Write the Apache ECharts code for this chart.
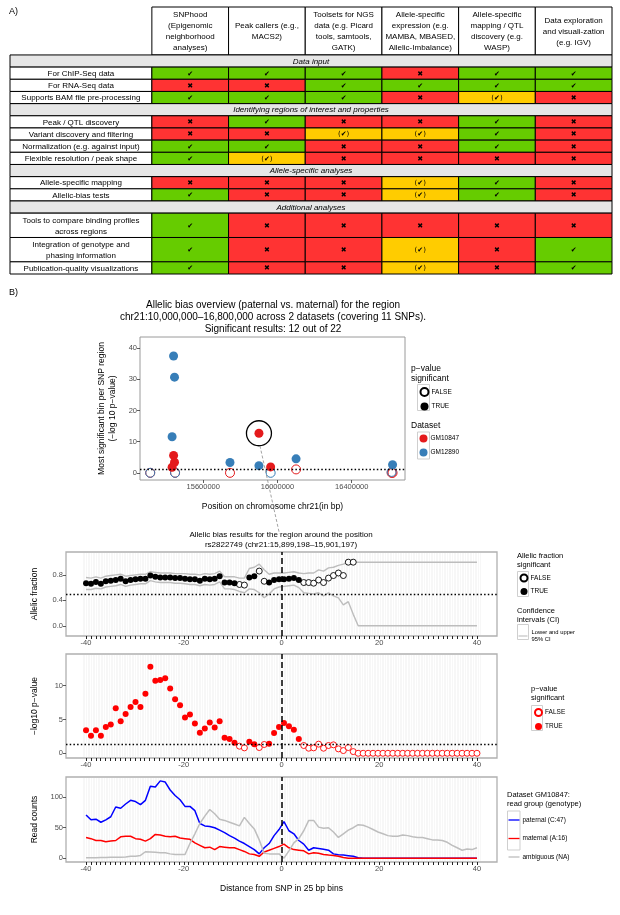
<!DOCTYPE html>
<html><head><meta charset="utf-8">
<script src="https://cdn.jsdelivr.net/npm/echarts/dist/echarts.min.js"></script>
<style>html,body{margin:0;padding:0;background:#fff}#c{width:620px;height:915px}</style>
</head><body><div id="c"></div>
<script>
const FONT = '"Liberation Sans", Arial, Helvetica, sans-serif';
const SYMFONT = '"DejaVu Sans", sans-serif';

// ---------- Panel A: comparison table ----------
const toolHeaders = [
  'SNPhood\n(Epigenomic\nneighborhood\nanalyses)',
  'Peak callers (e.g.,\nMACS2)',
  'Toolsets for NGS\ndata (e.g. Picard\ntools, samtools,\nGATK)',
  'Allele-specific\nexpression (e.g.\nMAMBA, MBASED,\nAllelic-Imbalance)',
  'Allele-specific\nmapping / QTL\ndiscovery (e.g.\nWASP)',
  'Data exploration\nand visuali-zation\n(e.g. IGV)'
];
const rowLabels = [
  'Data input',
  'For ChIP-Seq data',
  'For RNA-Seq data',
  'Supports BAM file pre-processing',
  'Identifying regions of interest and properties',
  'Peak / QTL discovery',
  'Variant discovery and filtering',
  'Normalization (e.g. against input)',
  'Flexible resolution / peak shape',
  'Allele-specific analyses',
  'Allele-specific mapping',
  'Allelic-bias tests',
  'Additional analyses',
  'Tools to compare binding profiles\nacross regions',
  'Integration of genotype and\nphasing information',
  'Publication-quality visualizations'
];
const rowIsSection = [1,0,0,0,1,0,0,0,0,1,0,0,1,0,0,0];
const rowSpan      = [1,1,1,1,1,1,1,1,1,1,1,1,1,2,2,1];
const support = ['', 'YYYNYY','NNYYYY','YYYNPN', '', 'NYNNYN','NNPPYN','YYNNYN','YPNNNN', '', 'NNNPYN','YNNPYN', '', 'YNNNNN','YNNPNY','YNNPNY'];
const supportSymbol = {Y:'\u2714', N:'\u2716', P:'(\u2714)'};
const supportColor  = {Y:'#66cc00', N:'#ff3333', P:'#ffcc00'};

// ---------- Panel B: overview (11 SNPs x 2 datasets) ----------
const snpPos      = [15314000,15432000,15440000,15445000,15448000,15744000,15900000,15963000,16100000,16615000,16620000];
const gm10847Val  = [0, 1.8, 5.6, 3.4, 0, 0, 12.7, 1.9, 1.1, 0, 0];
const gm10847Sig  = [0, 1, 1, 1, 0, 0, 1, 1, 0, 0, 0];
const gm12890Val  = [0, 11.6, 37.5, 30.7, 0, 3.3, 2.3, 0, 4.5, 0.3, 2.6];
const gm12890Sig  = [0, 1, 1, 1, 0, 1, 1, 0, 1, 0, 1];
const highlightSnp = [15900000, 12.7];
const ovXTicks = [15600000, 16000000, 16400000];
const ovYTicks = [0, 10, 20, 30, 40];

// ---------- Panel B: region around rs2822749 (80 bins) ----------
const allelicFraction = [0.67,0.66,0.69,0.66,0.70,0.71,0.72,0.74,0.70,0.72,
  0.73,0.74,0.74,0.79,0.77,0.76,0.76,0.76,0.75,0.75,
  0.74,0.73,0.73,0.71,0.74,0.73,0.74,0.78,0.68,0.68,
  0.67,0.65,0.64,0.76,0.78,0.86,0.70,0.68,0.72,0.73,
  0.73,0.74,0.75,0.72,0.68,0.68,0.67,0.72,0.68,0.75,
  0.79,0.83,0.79,1.0,1.0];
const afSignificant = [1,1,1,1,1,1,1,1,1,1, 1,1,1,1,1,1,1,1,1,1, 1,1,1,1,1,1,1,1,1,1,
  1,0,0,1,1,0,0,1,1,1, 1,1,1,1,0,0,0,0,0,0, 0,0,0,0,0];
const ciUpper = [0.76,0.75,0.77,0.75,0.78,0.79,0.80,0.81,0.78,0.79,
  0.80,0.81,0.81,0.85,0.84,0.83,0.83,0.83,0.82,0.82,
  0.82,0.81,0.81,0.80,0.82,0.81,0.82,0.86,0.77,0.77,
  0.77,0.75,0.75,0.90,0.92,0.97,0.88,0.81,0.83,0.83,
  0.83,0.84,0.85,0.83,0.82,0.83,0.83,0.88,0.86,0.91,
  0.92,0.95,0.97,1,1,1,1,1,1,1,
  1,1,1,1,1,1,1,1,1,1, 1,1,1,1,1,1,1,1,1,1];
const ciLower = [0.57,0.57,0.59,0.58,0.61,0.62,0.63,0.65,0.62,0.64,
  0.65,0.66,0.66,0.71,0.69,0.68,0.68,0.68,0.67,0.67,
  0.66,0.65,0.65,0.63,0.65,0.64,0.65,0.69,0.58,0.58,
  0.57,0.54,0.52,0.58,0.57,0.52,0.44,0.50,0.58,0.61,
  0.62,0.63,0.64,0.60,0.52,0.51,0.50,0.52,0.47,0.52,
  0.47,0.44,0.33,0.38,0.18,0,0,0,0,0,
  0,0,0,0,0,0,0,0,0,0, 0,0,0,0,0,0,0,0,0,0];
const pValueLog = [3.4,2.6,3.4,2.6,3.9,4.25,6.65,4.75,5.8,6.85,
  7.6,6.85,8.8,12.8,10.75,10.85,11.1,9.6,8.0,7.1,
  5.3,5.75,4.4,3.05,3.65,4.55,3.8,4.75,2.3,2.1,
  1.55,1.05,0.8,1.7,1.35,0.85,1.3,1.4,3.0,3.9,
  4.5,4.0,3.5,2.1,1.15,0.75,0.8,1.35,0.75,1.15,
  1.25,0.65,0.4,0.85,0.25,0,0,0,0,0,
  0,0,0,0,0,0,0,0,0,0, 0,0,0,0,0,0,0,0,0,0];
const pvSignificant = [1,1,1,1,1,1,1,1,1,1, 1,1,1,1,1,1,1,1,1,1, 1,1,1,1,1,1,1,1,1,1,
  1,0,0,1,1,0,0,1,1,1, 1,1,1,1,0,0,0,0,0,0, 0,0,0,0,0,0,0,0,0,0,
  0,0,0,0,0,0,0,0,0,0, 0,0,0,0,0,0,0,0,0,0];
const readsPaternal = [71,63,64,59,63,68,84,82,89,95,
  93,88,95,118,117,127,125,112,103,96,
  85,85,78,57,53,52,50,46,42,37,
  33,28,24,19,14,7,17,24,37,47,
  60,45,40,29,23,13,17,16,14.5,13,
  7,5.6,5,4,3,0.5,0,0,0,0,
  0,0,0,0,0,0,0,0,0,0, 0,0,0,0,0,0,0,0,0,0];
const readsMaternal = [34,32,29,29,27,28,29,35,36,36,
  32,31,28,32,39,38,36,35,36,33,
  32,31,25,21,17,18,14,19,18,17,
  17,14,11,7,6,3,10,13,16,19,
  23,17,14,13,12,7,9,8,6,5,
  4.5,3,1,0,0,0,0,0,0,0,
  0,0,0,0,0,0,0,0,0,0, 0,0,0,0,0,0,0,0,0,0];
const readsAmbiguous = [0.5,0.5,0.5,1,1,1.5,1.5,1.5,2,3,
  3,4.5,10.5,10,9.5,9,9,7,6,6,
  6,24,40,57,69,80,73,64,62,59,
  56,53,67,57,48,30,8,7,7,7,
  0,12,25,32,45,62,62,51,49,50,
  43,34,40,46,50,55,54,51,47,43,
  40,37,36,36,38,37,35,34,34,32,
  30,30,29,26,21,17,13,15,14,17];
const binLabelTicks = [-40, -20, 0, 20, 40];
const afYTicks = [0, 0.4, 0.8];
const pvYTicks = [0, 5, 10];
const rcYTicks = [0, 50, 100];

// bins from -40 to 40 (80 bins of 25 bp)
const nBins = readsPaternal.length;
const binPos = readsPaternal.map((_, i) => -40 + i * 80 / (nBins - 1));
const binTicks = []; for (let v = -40; v <= 40; v++) binTicks.push(v);

// ---------- Build table cells ----------
const LABEL_W = 1.85, HEADER_H = 3.94;
const cells = [];
toolHeaders.forEach((t, j) => cells.push({x0: LABEL_W + j, x1: LABEL_W + j + 1, y0: 0, y1: HEADER_H, kind: 'hdr', text: t}));
let yCursor = HEADER_H;
rowLabels.forEach((lab, r) => {
  const h = rowSpan[r];
  if (rowIsSection[r]) {
    cells.push({x0: 0, x1: LABEL_W + 6, y0: yCursor, y1: yCursor + h, kind: 'sec', text: lab});
  } else {
    cells.push({x0: 0, x1: LABEL_W, y0: yCursor, y1: yCursor + h, kind: 'lbl', text: lab});
    for (let j = 0; j < 6; j++) {
      const code = support[r][j];
      cells.push({x0: LABEL_W + j, x1: LABEL_W + j + 1, y0: yCursor, y1: yCursor + h, kind: code, text: supportSymbol[code]});
    }
  }
  yCursor += h;
});
const TOTAL_H = yCursor;

function renderCell(params, api) {
  const c = cells[params.dataIndex];
  const a = api.coord([api.value(0), api.value(2)]);
  const b = api.coord([api.value(1), api.value(3)]);
  const x = a[0], y = a[1], w = b[0] - a[0], h = b[1] - a[1];
  let fill = '#ffffff', fontSize = 8, fontStyle = 'normal', family = FONT, lh = 10.6;
  if (c.kind === 'sec') { fill = '#e6e6e6'; fontStyle = 'italic'; }
  if (c.kind === 'Y' || c.kind === 'N' || c.kind === 'P') { fill = supportColor[c.kind]; fontSize = 7; family = SYMFONT; }
  if (c.kind === 'hdr') { lh = 11; }
  if (c.kind === 'lbl') { lh = 11; }
  return {type: 'group', children: [
    {type: 'rect', shape: {x: x, y: y, width: w, height: h}, style: {fill: fill, stroke: '#000', lineWidth: 1}},
    {type: 'text', style: {text: c.text, x: x + w / 2, y: y + h / 2 + 0.5, align: 'center', verticalAlign: 'middle',
      textAlign: 'center', textVerticalAlign: 'middle',
      fontSize: fontSize, fontStyle: fontStyle, fontFamily: family, fill: '#000', lineHeight: lh}}
  ]};
}

// ---------- helpers ----------
const RED = '#E41A1C', BLUE = '#377EB8';
const tickLabel = {fontSize: 7.5, color: '#4d4d4d', fontFamily: FONT, margin: 3};
const nameStyle = {fontSize: 8.5, color: '#000', fontFamily: FONT};
function pts(xs, ys, keep) { const out = []; ys.forEach((v, i) => { if (keep(i)) out.push([xs[i], v]); }); return out; }
const dashedZero = {xAxis: 0, lineStyle: {type: [6, 3], color: '#000', width: 1.5}};
function dotted(v) { return {yAxis: v, lineStyle: {type: [1.5, 2.2], color: '#000', width: 1.4}}; }
function mline(list) { return {silent: true, symbol: ['none', 'none'], label: {show: false}, animation: false, data: list}; }
const noLine = {show: false, onZero: false};

const lowerGrids = [
  {left: 66, top: 552, width: 431, height: 84},
  {left: 66, top: 654, width: 431, height: 104},
  {left: 66, top: 777, width: 431, height: 85}
];
const XMIN = -44.1, XMAX = 44.1;
const pxPerUnit = 431 / (XMAX - XMIN);
const texLeft = 66 + (-40.6 - XMIN) * pxPerUnit, texWidth = 81.2 * pxPerUnit;

const grids = [
  {left: 10, top: 7, width: 602, height: 267},
  {left: 140, top: 337, width: 265, height: 143, show: true, borderColor: '#9a9a9a', borderWidth: 1},
].concat(lowerGrids.map(g => Object.assign({show: true, borderColor: '#b0b0b0', borderWidth: 1.3}, g)))
 .concat(lowerGrids.map(g => ({left: texLeft, top: g.top + 1, width: texWidth, height: g.height - 2})));

function lowerX(gi, showName) {
  return {gridIndex: gi, type: 'value', min: XMIN, max: XMAX,
    axisLine: noLine, splitLine: {show: false},
    axisTick: {show: true, customValues: binTicks, length: 3, lineStyle: {color: '#222', width: 1}},
    axisLabel: Object.assign({customValues: binLabelTicks}, tickLabel),
    name: showName ? 'Distance from SNP in 25 bp bins' : '', nameLocation: 'middle', nameGap: 22, nameTextStyle: nameStyle};
}
function lowerY(gi, min, max, ticks, name, fmt) {
  return {gridIndex: gi, type: 'value', min: min, max: max,
    axisLine: noLine, splitLine: {show: false},
    axisTick: {show: true, customValues: ticks, length: 3, lineStyle: {color: '#333', width: 0.8}},
    axisLabel: Object.assign({customValues: ticks, formatter: fmt || (v => String(v))}, tickLabel),
    name: name, nameLocation: 'middle', nameGap: 27, nameTextStyle: nameStyle};
}
function texX(gi) {
  return {gridIndex: gi, type: 'value', min: 0, max: 243, interval: 1,
    axisLine: noLine, axisTick: {show: false}, axisLabel: {show: false},
    splitLine: {show: true, lineStyle: {color: '#f2f2f2', width: 0.6}}};
}
function texY(gi) { return {gridIndex: gi, type: 'value', min: 0, max: 1, show: false, axisLine: noLine, splitLine: {show: false}}; }

const xAxes = [
  {gridIndex: 0, type: 'value', min: 0, max: LABEL_W + 6, show: false, axisLine: noLine},
  {gridIndex: 1, type: 'value', min: 15259000, max: 16687000,
    axisLine: noLine, splitLine: {show: false},
    axisTick: {show: true, customValues: ovXTicks, length: 3, lineStyle: {color: '#333', width: 0.8}},
    axisLabel: Object.assign({customValues: ovXTicks, formatter: v => String(v)}, tickLabel),
    name: 'Position on chromosome chr21(in bp)', nameLocation: 'middle', nameGap: 22, nameTextStyle: nameStyle},
  lowerX(2, false), lowerX(3, false), lowerX(4, true),
  texX(5), texX(6), texX(7)
];
const yAxes = [
  {gridIndex: 0, type: 'value', min: 0, max: TOTAL_H, inverse: true, show: false, axisLine: noLine},
  {gridIndex: 1, type: 'value', min: -2.3, max: 43.6,
    axisLine: noLine, splitLine: {show: false},
    axisTick: {show: true, customValues: ovYTicks, length: 3, lineStyle: {color: '#333', width: 0.8}},
    axisLabel: Object.assign({customValues: ovYTicks}, tickLabel),
    name: 'Most significant bin per SNP region\n(\u2212log 10 p\u2212value)', nameLocation: 'middle', nameGap: 22,
    nameTextStyle: Object.assign({lineHeight: 11}, nameStyle)},
  lowerY(2, -0.16, 1.16, afYTicks, 'Allelic fraction', v => v.toFixed(1)),
  lowerY(3, -0.7, 14.7, pvYTicks, '\u2212log10 p\u2212value'),
  lowerY(4, -6.35, 133.35, rcYTicks, 'Read counts'),
  texY(5), texY(6), texY(7)
];

const openStyle = c => ({color: 'rgba(255,255,255,0)', borderColor: c, borderWidth: 1, opacity: 1});
const solid = c => ({color: c, opacity: 1});
const series = [
  {type: 'custom', name: 'table', xAxisIndex: 0, yAxisIndex: 0, silent: true, renderItem: renderCell,
    encode: {x: [0, 1], y: [2, 3]}, data: cells.map(c => [c.x0, c.x1, c.y0, c.y1])},
  // overview
  {name: 'GM10847 not significant', type: 'scatter', xAxisIndex: 1, yAxisIndex: 1, symbolSize: 9, z: 3,
    itemStyle: openStyle(RED), data: pts(snpPos, gm10847Val, i => !gm10847Sig[i]),
    markLine: mline([dotted(1.3)])},
  {name: 'GM12890 not significant', type: 'scatter', xAxisIndex: 1, yAxisIndex: 1, symbolSize: 9, z: 3,
    itemStyle: openStyle(BLUE), data: pts(snpPos, gm12890Val, i => !gm12890Sig[i])},
  {name: 'GM10847 significant', type: 'scatter', xAxisIndex: 1, yAxisIndex: 1, symbolSize: 9, z: 4,
    itemStyle: solid(RED), data: pts(snpPos, gm10847Val, i => gm10847Sig[i])},
  {name: 'GM12890 significant', type: 'scatter', xAxisIndex: 1, yAxisIndex: 1, symbolSize: 9, z: 4,
    itemStyle: solid(BLUE), data: pts(snpPos, gm12890Val, i => gm12890Sig[i])},
  {name: 'highlight', type: 'scatter', xAxisIndex: 1, yAxisIndex: 1, symbolSize: 25, z: 5,
    itemStyle: {color: 'rgba(0,0,0,0)', borderColor: '#000', borderWidth: 1.3, opacity: 1}, data: [highlightSnp]},
  {name: 'FALSE|ov', type: 'scatter', xAxisIndex: 1, yAxisIndex: 1, itemStyle: openStyle('#000'), data: []},
  {name: 'TRUE|ov', type: 'scatter', xAxisIndex: 1, yAxisIndex: 1, itemStyle: solid('#000'), data: []},
  {name: 'GM10847', type: 'scatter', xAxisIndex: 1, yAxisIndex: 1, itemStyle: solid(RED), data: []},
  {name: 'GM12890', type: 'scatter', xAxisIndex: 1, yAxisIndex: 1, itemStyle: solid(BLUE), data: []},
  // allelic fraction
  {name: 'Lower and upper\n95% CI', type: 'line', xAxisIndex: 2, yAxisIndex: 2, symbol: 'none', z: 2,
    lineStyle: {color: '#bdbdbd', width: 1.4}, itemStyle: {color: '#bdbdbd'},
    data: binPos.map((x, i) => [x, ciUpper[i]]), markLine: mline([dotted(0.5), dashedZero])},
  {name: 'Lower and upper\n95% CI', type: 'line', xAxisIndex: 2, yAxisIndex: 2, symbol: 'none', z: 2,
    lineStyle: {color: '#bdbdbd', width: 1.4}, itemStyle: {color: '#bdbdbd'},
    data: binPos.map((x, i) => [x, ciLower[i]])},
  {name: 'FALSE|af', type: 'scatter', xAxisIndex: 2, yAxisIndex: 2, symbolSize: 6, z: 4,
    itemStyle: {color: '#fff', borderColor: '#000', borderWidth: 0.9, opacity: 1},
    data: pts(binPos, allelicFraction, i => !afSignificant[i])},
  {name: 'TRUE|af', type: 'scatter', xAxisIndex: 2, yAxisIndex: 2, symbolSize: 6, z: 4,
    itemStyle: solid('#000'), data: pts(binPos, allelicFraction, i => afSignificant[i])},
  // p-values
  {name: 'FALSE|pv', type: 'scatter', xAxisIndex: 3, yAxisIndex: 3, symbolSize: 6, z: 4,
    itemStyle: {color: '#fff', borderColor: '#ff0000', borderWidth: 0.9, opacity: 1},
    data: pts(binPos, pValueLog, i => !pvSignificant[i]), markLine: mline([dotted(1.3), dashedZero])},
  {name: 'TRUE|pv', type: 'scatter', xAxisIndex: 3, yAxisIndex: 3, symbolSize: 6, z: 4,
    itemStyle: solid('#ff0000'), data: pts(binPos, pValueLog, i => pvSignificant[i])},
  // read counts
  {name: 'paternal (C:47)', type: 'line', xAxisIndex: 4, yAxisIndex: 4, symbol: 'none', z: 3,
    lineStyle: {color: '#0000ff', width: 1.5}, itemStyle: {color: '#0000ff'},
    data: binPos.map((x, i) => [x, readsPaternal[i]]), markLine: mline([dashedZero])},
  {name: 'maternal (A:16)', type: 'line', xAxisIndex: 4, yAxisIndex: 4, symbol: 'none', z: 3,
    lineStyle: {color: '#ff0000', width: 1.5}, itemStyle: {color: '#ff0000'},
    data: binPos.map((x, i) => [x, readsMaternal[i]])},
  {name: 'ambiguous (NA)', type: 'line', xAxisIndex: 4, yAxisIndex: 4, symbol: 'none', z: 3,
    lineStyle: {color: '#bebebe', width: 1.5}, itemStyle: {color: '#bebebe'},
    data: binPos.map((x, i) => [x, readsAmbiguous[i]])}
];

const LINE_ICON = 'path://M0,0 L20,0 L20,2.4 L0,2.4 Z';
const legendBase = {orient: 'vertical', padding: 0, selectedMode: false, itemWidth: 8, itemHeight: 8,
  textStyle: {fontSize: 6.5, fontFamily: FONT, color: '#000', padding: [0, 0, 0, -2]},
  formatter: n => n.split('|')[0]};
const legends = [
  Object.assign({}, legendBase, {left: 419.5, top: 387, itemGap: 5.5, icon: 'circle', data: ['FALSE|ov', 'TRUE|ov']}),
  Object.assign({}, legendBase, {left: 419.5, top: 434.5, itemGap: 6, icon: 'circle', data: ['GM10847', 'GM12890']}),
  Object.assign({}, legendBase, {left: 519.5, top: 573.5, itemGap: 5.5, itemWidth: 7, itemHeight: 7, icon: 'circle', data: ['FALSE|af', 'TRUE|af']}),
  Object.assign({}, legendBase, {left: 518.5, top: 629, itemWidth: 9, itemHeight: 2, icon: LINE_ICON,
    textStyle: {fontSize: 5.8, fontFamily: FONT, color: '#000', lineHeight: 7, padding: [0, 0, 0, -1]}, data: ['Lower and upper\n95% CI']}),
  Object.assign({}, legendBase, {left: 534, top: 708, itemGap: 6, itemWidth: 7, itemHeight: 7, icon: 'circle', data: ['FALSE|pv', 'TRUE|pv']}),
  Object.assign({}, legendBase, {left: 508.5, top: 816.5, itemGap: 11.5, itemWidth: 11, itemHeight: 1.6, icon: LINE_ICON,
    data: ['paternal (C:47)', 'maternal (A:16)', 'ambiguous (NA)']})
];

const chart = echarts.init(document.getElementById('c'), null, {renderer: 'canvas'});
chart.setOption({animation: false, backgroundColor: '#fff', textStyle: {fontFamily: FONT},
  grid: grids, xAxis: xAxes, yAxis: yAxes, legend: legends, series: series});

// ---------- annotations (text + connector) ----------
function txt(id, x, y, text, size, opts) {
  return Object.assign({type: 'text', id: id, x: x, y: y, silent: true, z: 50,
    style: Object.assign({text: text, fontSize: size, fontFamily: FONT, fill: '#000',
      align: 'left', textAlign: 'left', verticalAlign: 'top', textVerticalAlign: 'top'}, opts && opts.style)}, opts && opts.el);
}
function ctxt(id, x, y, text, size, lh) {
  return txt(id, x, y, text, size, {style: {align: 'center', textAlign: 'center', lineHeight: lh}});
}
function keyBox(id, x, y, w, h) {
  return {type: 'rect', id: id, silent: true, z: 1, shape: {x: x, y: y, width: w, height: h},
    style: {fill: '#fff', stroke: '#cfcfcf', lineWidth: 1}};
}
const ring = chart.convertToPixel({gridIndex: 1}, highlightSnp);
const zeroTop = chart.convertToPixel({gridIndex: 2}, [0, 1.16]);
const graphics = [
  txt('A', 9, 7, 'A)', 9),
  txt('B', 9, 288, 'B)', 9),
  ctxt('t1', 273, 299, 'Allelic bias overview (paternal vs. maternal) for the region\nchr21:10,000,000\u201316,800,000 across 2 datasets (covering 11 SNPs).\nSignificant results: 12 out of 22', 10, 12),
  ctxt('t2', 281, 530, 'Allelic bias results for the region around the position\nrs2822749 (chr21:15,899,198\u201315,901,197)', 8, 9.8),
  txt('lg1', 411, 364, 'p\u2212value\nsignificant', 8.5, {style: {lineHeight: 10}}),
  txt('lg2', 411, 421, 'Dataset', 8.5),
  txt('lg3', 517, 551, 'Allelic fraction\nsignificant', 7.5, {style: {lineHeight: 9}}),
  txt('lg4', 517, 606, 'Confidence\nintervals (CI)', 7.5, {style: {lineHeight: 9}}),
  txt('lg5', 531, 684, 'p\u2212value\nsignificant', 7.5, {style: {lineHeight: 9.5}}),
  txt('lg6', 507, 790, 'Dataset GM10847:\nread group (genotype)', 7.5, {style: {lineHeight: 9.5}}),
  keyBox('k1', 417.5, 384.5, 12, 26),
  keyBox('k2', 417.5, 432, 12, 27),
  keyBox('k3', 517.5, 571.5, 11, 25),
  keyBox('k4', 517.5, 624.5, 11, 15),
  keyBox('k5', 531.5, 705.5, 11, 25),
  keyBox('k6', 507.5, 811, 12.5, 39),
  {type: 'line', id: 'conn', silent: true, z: 10,
    shape: {x1: ring[0] + 1, y1: ring[1] + 12.5, x2: zeroTop[0] - 2, y2: zeroTop[1] - 18},
    style: {stroke: '#8c8c8c', lineWidth: 0.8, lineDash: [3, 2]}}
];
chart.setOption({graphic: {elements: graphics}});
</script></body></html>
